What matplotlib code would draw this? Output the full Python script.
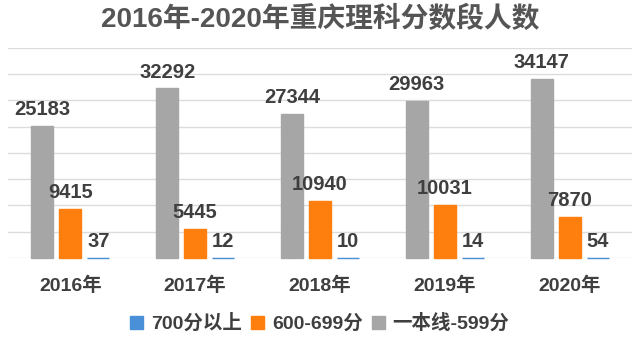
import numpy as np
import matplotlib.pyplot as plt

plt.rcParams['font.family'] = ['Liberation Sans', 'Noto Sans CJK SC', 'DejaVu Sans']

years = ['2016年', '2017年', '2018年', '2019年', '2020年']
series_names = ['700分以上', '600-699分', '一本线-599分']
top700 = [37, 12, 10, 14, 54]
mid600 = [9415, 5445, 10940, 10031, 7870]
base599 = [25183, 32292, 27344, 29963, 34147]

colors = {'700分以上': '#4a90d9', '600-699分': '#ff7f0e', '一本线-599分': '#a6a6a6'}
text_color = '#3f3f3f'

fig = plt.figure(figsize=(6.4, 3.47), dpi=100)
ax = fig.add_axes([0.0125, 0.2565, 0.975, 0.6052])

x = np.arange(len(years))
w = 0.176
step = 0.224
# order inside each group: gray, orange, blue
groups = [(base599, '一本线-599分', -step), (mid600, '600-699分', 0), (top700, '700分以上', step)]
handles = {}
for vals, name, off in groups:
    bars = ax.bar(x + off, vals, w, color=colors[name], edgecolor=colors[name],
                  linewidth=1.0, zorder=3, label=name, clip_on=False)
    handles[name] = bars
    for xi, v in zip(x + off, vals):
        ax.annotate(str(v), (xi, v), xytext=(0, 5), textcoords='offset points',
                    ha='center', va='bottom', fontsize=14.5, fontweight='bold',
                    color=text_color)

ax.set_xlim(-0.5, 4.5)
ax.set_ylim(0, 40000)
ax.set_yticks(np.arange(0, 40001, 5000))
ax.yaxis.grid(True, color='#dcdcdc', linewidth=1, zorder=0)
ax.tick_params(axis='y', left=False, labelleft=False)
ax.tick_params(axis='x', bottom=False, pad=10)
ax.set_xticks(x)
ax.set_xticklabels(years, fontsize=14, fontweight='bold', color=text_color)
for s in ax.spines.values():
    s.set_visible(False)

fig.suptitle('2016年-2020年重庆理科分数段人数', fontsize=20, fontweight='bold',
             color='#555555', y=0.985)

leg = fig.legend([handles[n] for n in series_names], series_names,
                 loc='center', bbox_to_anchor=(0.5, 0.068), ncol=3, frameon=False,
                 fontsize=14, handlelength=0.65, handleheight=0.65, handletextpad=0.4,
                 columnspacing=0.5)
for t in leg.get_texts():
    t.set_color(text_color)
    t.set_fontweight('bold')

fig.savefig('out.png', dpi=100, facecolor='white')
